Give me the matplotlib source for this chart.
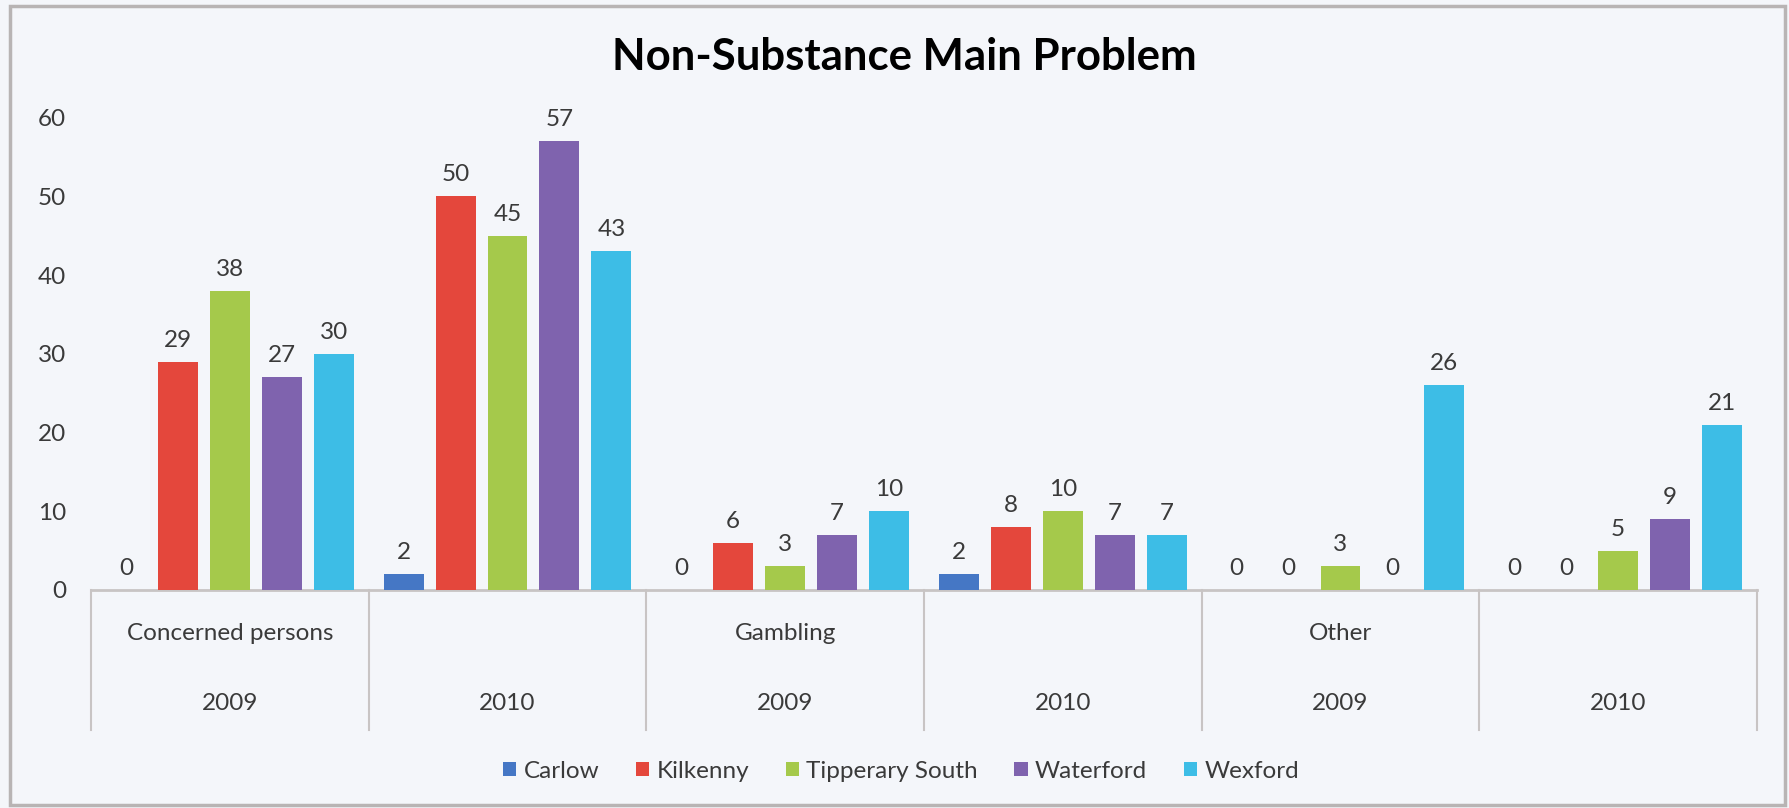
import matplotlib
matplotlib.use("Agg")
import matplotlib.pyplot as plt
from matplotlib.patches import Rectangle
import matplotlib.transforms as mtransforms
import numpy as np

plt.rcParams['font.family'] = ['Lato', 'DejaVu Sans']

groups = ["Concerned persons", "", "Gambling", "", "Other", ""]
years = ["2009", "2010", "2009", "2010", "2009", "2010"]
series_names = ["Carlow", "Kilkenny", "Tipperary South", "Waterford", "Wexford"]
carlow = [0, 2, 0, 2, 0, 0]
kilkenny = [29, 50, 6, 8, 0, 0]
tipperary_south = [38, 45, 3, 10, 3, 5]
waterford = [27, 57, 7, 7, 0, 9]
wexford = [30, 43, 10, 7, 26, 21]
series_values = [carlow, kilkenny, tipperary_south, waterford, wexford]
colors = ["#4577C5", "#E4473C", "#A5C94B", "#7F63AE", "#3DBDE6"]
title = "Non-Substance Main Problem"

BG = "#F4F6FA"
TXT = "#3A3A3A"
FS = 17.5

W, H = 1789, 808
fig = plt.figure(figsize=(W / 100, H / 100), dpi=100, facecolor=BG)

# outer border
fig.patches.append(Rectangle((10 / W, 3 / H), 1775 / W, 799 / H, transform=fig.transFigure,
                             fill=False, edgecolor="#B8B4B4", linewidth=2.5))

ax_left, ax_right = 91, 1757
ax_top, ax_bottom = 117.5, 590
ax = fig.add_axes([ax_left / W, 1 - ax_bottom / H, (ax_right - ax_left) / W, (ax_bottom - ax_top) / H])
ax.set_facecolor(BG)

n = len(years)
x = np.arange(n)
pitch = 0.187
width = 0.144
for j, (name, vals, c) in enumerate(zip(series_names, series_values, colors)):
    pos = x + (j - 2) * pitch
    bars = ax.bar(pos, vals, width=width, color=c, label=name, zorder=3)
    ax.bar_label(bars, labels=[str(v) for v in vals], padding=8, fontsize=FS, color=TXT)

ax.set_xlim(-0.5, n - 0.5)
ax.set_ylim(0, 60)
ax.set_yticks(range(0, 61, 10))
ax.tick_params(axis='y', length=0, pad=18, labelsize=FS, labelcolor=TXT)
ax.set_xticks([])
for s in ["top", "right", "left"]:
    ax.spines[s].set_visible(False)
ax.spines["bottom"].set_color("#C8C4C4")
ax.spines["bottom"].set_linewidth(2)

# multi-level category box
trans = mtransforms.blended_transform_factory(ax.transData, ax.transAxes)
ybot = -(730 - ax_bottom) / (ax_bottom - ax_top)
for b in np.arange(n + 1) - 0.5:
    ax.plot([b, b], [0, ybot], transform=trans, color="#C8C4C4", lw=1.5, clip_on=False)
y_grp = -(633 - ax_bottom) / (ax_bottom - ax_top)
y_yr = -(704 - ax_bottom) / (ax_bottom - ax_top)
for i in range(n):
    if groups[i]:
        ax.text(x[i], y_grp, groups[i], transform=trans, ha='center', va='center', fontsize=FS, color=TXT)
    ax.text(x[i], y_yr, years[i], transform=trans, ha='center', va='center', fontsize=FS, color=TXT)

fig.text(904 / W, 1 - 57 / H, title, ha='center', va='center', fontsize=31.5, fontweight='bold', color='black')

fig.legend(loc='center', bbox_to_anchor=(901 / W, 1 - 771 / H), ncol=5, frameon=False,
           fontsize=FS, handlelength=0.55, handleheight=0.55, handletextpad=0.3, columnspacing=1.5,
           labelcolor=TXT)

fig.savefig("out.png", dpi=100, facecolor=BG)
